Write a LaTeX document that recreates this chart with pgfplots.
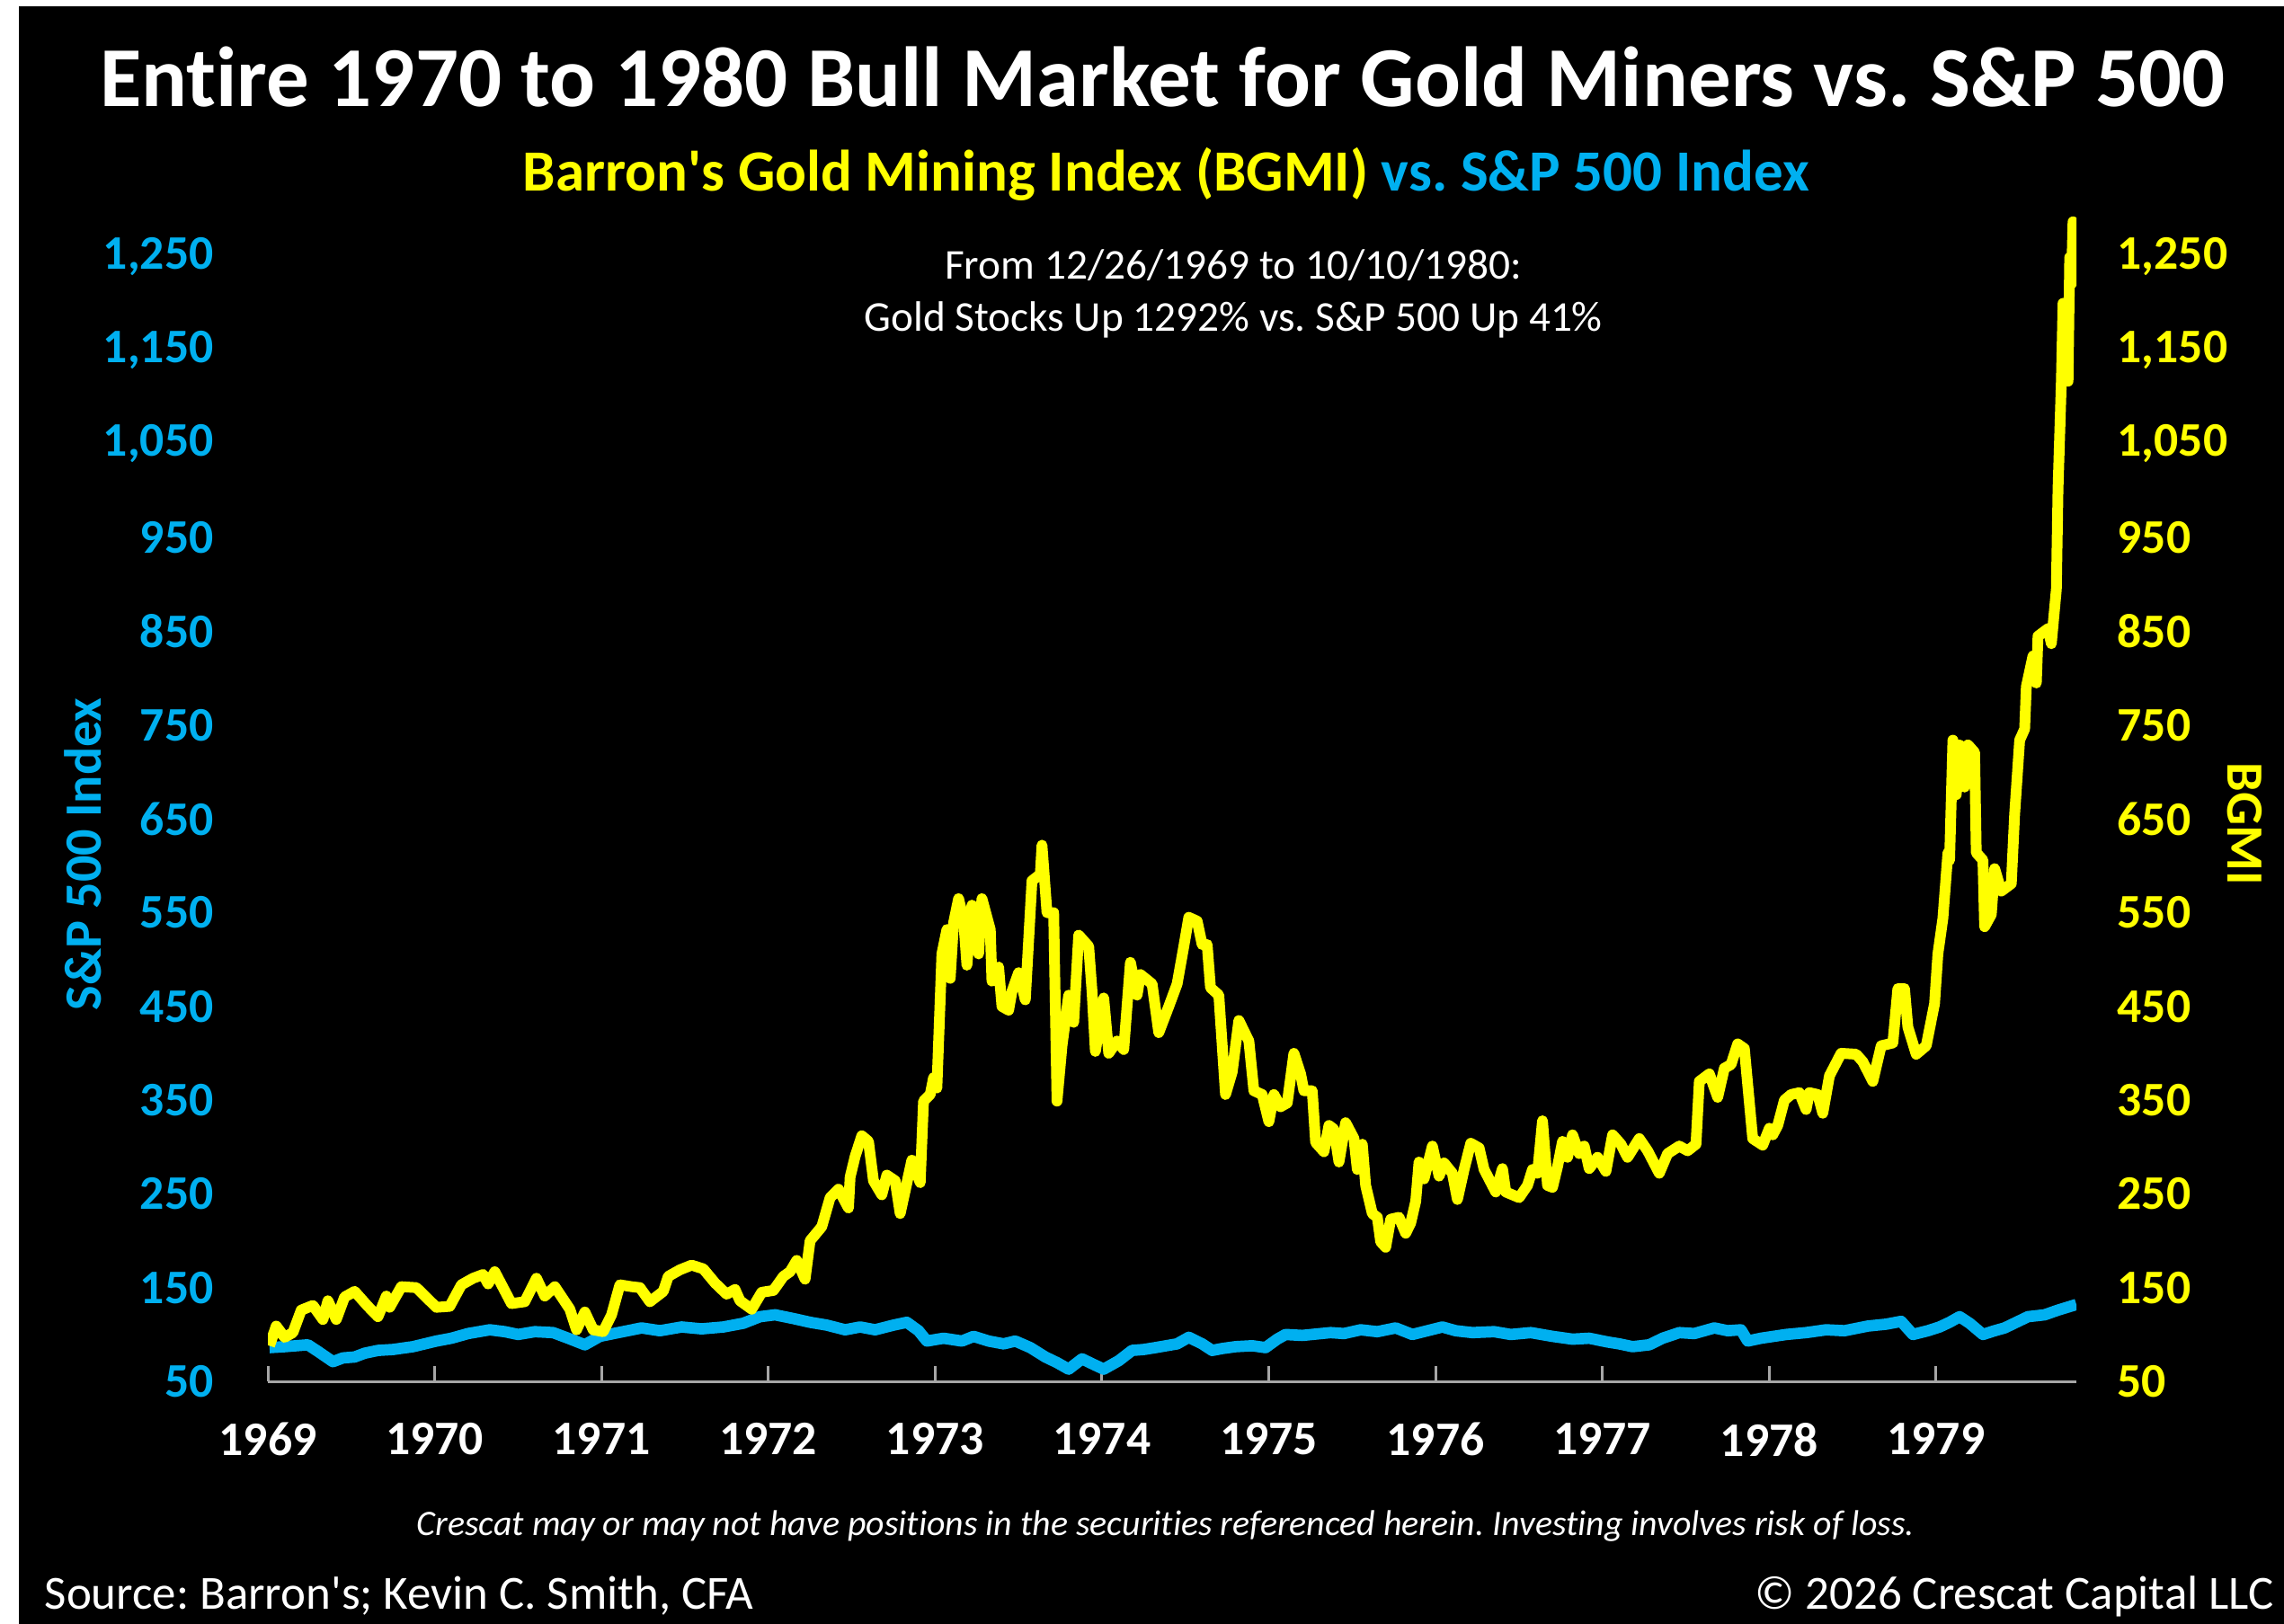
\documentclass[border=0pt]{standalone}
\usepackage{fontspec}
\setmainfont{Carlito}[Ligatures={TeX,NoCommon}]
\usepackage{pgfplots}
\usepackage{pgfplotstable}
\pgfplotsset{compat=1.18}
\frenchspacing

\definecolor{spblue}{HTML}{00B0F0}
\definecolor{gold}{HTML}{FFFF00}
\definecolor{axgray}{HTML}{A6A6A6}

% Barron's Gold Mining Index
\pgfplotstableread{
t v
1969.01 88
1969.05 109
1969.10 97
1969.15 102
1969.20 126
1969.27 131
1969.33 116
1969.36 136
1969.41 116
1969.46 140
1969.52 146
1969.60 130
1969.66 119
1969.71 141
1969.73 129
1969.80 151
1969.89 150
1970.01 129
1970.09 130
1970.16 153
1970.23 160
1970.29 164
1970.32 154
1970.36 167
1970.46 133
1970.54 135
1970.61 160
1970.66 141
1970.72 151
1970.81 127
1970.85 105
1970.90 124
1970.95 105
1971.01 103
1971.06 121
1971.11 153
1971.18 151
1971.23 150
1971.29 135
1971.37 146
1971.40 162
1971.47 169
1971.54 174
1971.61 170
1971.68 155
1971.75 143
1971.80 148
1971.83 136
1971.90 127
1971.96 145
1972.03 147
1972.09 162
1972.13 167
1972.17 179
1972.22 159
1972.25 200
1972.32 215
1972.37 246
1972.42 255
1972.48 235
1972.49 268
1972.52 290
1972.56 312
1972.60 306
1972.63 264
1972.68 249
1972.71 270
1972.76 264
1972.79 229
1972.86 286
1972.91 262
1972.93 349
1972.97 356
1972.99 374
1973.01 363
1973.04 506
1973.07 532
1973.09 480
1973.11 539
1973.14 565
1973.17 543
1973.19 494
1973.22 558
1973.26 506
1973.28 565
1973.33 532
1973.34 477
1973.38 492
1973.40 450
1973.44 446
1973.46 466
1973.50 486
1973.54 457
1973.58 584
1973.63 591
1973.64 622
1973.67 550
1973.71 550
1973.73 349
1973.76 408
1973.80 462
1973.83 433
1973.86 526
1973.92 514
1973.94 466
1973.96 402
1974.01 459
1974.04 400
1974.09 413
1974.13 404
1974.17 497
1974.21 462
1974.23 484
1974.30 474
1974.34 422
1974.40 450
1974.45 474
1974.49 514
1974.52 545
1974.57 541
1974.60 516
1974.63 516
1974.65 470
1974.70 462
1974.74 356
1974.78 380
1974.82 435
1974.88 413
1974.91 360
1974.96 356
1975.00 327
1975.03 356
1975.07 343
1975.11 347
1975.15 400
1975.19 378
1975.21 360
1975.26 360
1975.28 305
1975.33 295
1975.36 323
1975.39 319
1975.42 284
1975.46 326
1975.51 309
1975.53 276
1975.56 303
1975.58 259
1975.62 229
1975.65 225
1975.67 199
1975.70 193
1975.73 223
1975.78 225
1975.82 208
1975.85 219
1975.88 242
1975.90 284
1975.93 266
1975.98 301
1976.02 269
1976.05 283
1976.10 272
1976.13 244
1976.17 276
1976.21 304
1976.26 299
1976.29 276
1976.36 252
1976.40 277
1976.42 252
1976.50 246
1976.55 259
1976.58 276
1976.61 272
1976.64 328
1976.67 259
1976.70 257
1976.73 279
1976.76 306
1976.79 289
1976.82 313
1976.86 293
1976.89 301
1976.92 277
1976.97 289
1977.02 274
1977.06 313
1977.11 303
1977.15 289
1977.22 309
1977.27 296
1977.34 272
1977.39 293
1977.46 301
1977.51 296
1977.56 303
1977.58 370
1977.64 378
1977.69 353
1977.73 384
1977.77 388
1977.81 410
1977.85 405
1977.90 309
1977.96 302
1978.00 320
1978.02 313
1978.05 323
1978.09 350
1978.13 356
1978.18 358
1978.22 340
1978.24 358
1978.29 356
1978.32 336
1978.36 376
1978.43 400
1978.52 399
1978.56 391
1978.62 370
1978.67 408
1978.74 411
1978.77 469
1978.81 469
1978.83 428
1978.88 399
1978.94 408
1978.99 453
1979.01 506
1979.04 544
1979.07 614
1979.08 606
1979.10 734
1979.12 676
1979.14 729
1979.17 684
1979.19 729
1979.23 721
1979.24 614
1979.28 606
1979.29 535
1979.33 548
1979.35 597
1979.39 573
1979.45 581
1979.47 655
1979.50 734
1979.53 746
1979.54 791
1979.58 824
1979.60 795
1979.61 845
1979.67 853
1979.69 837
1979.72 895
1979.73 1002
1979.75 1117
1979.76 1200
1979.78 1200
1979.79 1117
1979.80 1249
1979.81 1221
1979.82 1287
1979.84 1249
}\bgmi

% S&P 500
\pgfplotstableread{
t v
1969.01 86
1969.10 87
1969.24 89
1969.30 82
1969.39 71
1969.45 75
1969.52 76
1969.58 80
1969.66 83
1969.75 84
1969.87 87
1970.01 93
1970.10 96
1970.20 101
1970.33 105
1970.42 103
1970.50 100
1970.60 103
1970.71 102
1970.80 96
1970.90 89
1970.99 98
1971.10 102
1971.24 107
1971.35 104
1971.48 108
1971.60 106
1971.73 108
1971.85 112
1971.95 119
1972.04 121
1972.15 117
1972.25 113
1972.35 110
1972.46 105
1972.55 108
1972.64 105
1972.75 110
1972.83 113
1972.90 104
1972.95 93
1973.05 96
1973.16 93
1973.23 98
1973.32 93
1973.41 90
1973.48 93
1973.57 86
1973.66 76
1973.73 70
1973.80 63
1973.88 74
1973.95 68
1974.01 63
1974.10 72
1974.18 83
1974.25 84
1974.32 86
1974.45 90
1974.52 97
1974.60 90
1974.66 83
1974.72 85
1974.80 87
1974.90 88
1974.98 86
1975.05 95
1975.10 100
1975.20 99
1975.37 102
1975.45 101
1975.55 105
1975.65 103
1975.76 107
1975.86 100
1975.95 104
1976.04 108
1976.12 104
1976.22 102
1976.35 103
1976.45 100
1976.57 102
1976.70 98
1976.82 95
1976.92 96
1977.03 92
1977.10 90
1977.18 87
1977.28 89
1977.36 96
1977.46 102
1977.55 101
1977.67 107
1977.75 104
1977.83 105
1977.87 93
1977.95 96
1978.10 100
1978.22 102
1978.34 105
1978.45 104
1978.59 109
1978.70 111
1978.79 114
1978.86 100
1978.95 104
1979.02 108
1979.08 113
1979.14 119
1979.20 112
1979.28 100
1979.35 104
1979.41 107
1979.48 113
1979.55 119
1979.65 121
1979.73 126
1979.84 132
}\spx

\pgfplotsset{
  chartbox/.style={
    at={(84.44pt,-435.51pt)}, anchor=south west,
    scale only axis, width=570.1pt, height=369.42pt,
    xmin=1969, xmax=1979.84, ymin=50, ymax=1300,
    ytick={50,150,...,1250},
    scaled ticks=false,
    /pgf/number format/assume math mode=true,
    tick label style={font=\fontsize{15.2}{18}\selectfont\bfseries},
    ylabel style={font=\fontsize{16.5}{19}\selectfont\bfseries, anchor=center},
  },
}

\begin{document}
\begin{tikzpicture}
\useasboundingbox (0,0) rectangle (720pt,-512pt);
\fill[white] (0,0) rectangle (720pt,-512pt);
\fill[black] (6pt,-2pt) rectangle (720pt,-512pt);

% S&P 500 on the left axis
\begin{axis}[chartbox,
  axis x line*=bottom, axis y line*=left,
  x axis line style={axgray, line width=0.85pt},
  y axis line style={draw=none},
  xtick={1969,...,1979},
  xtick style={axgray, line width=0.85pt}, major tick length=4.8pt,
  tick align=inside,
  ytick style={draw=none},
  xticklabel style={white, /pgf/number format/1000 sep={}, yshift=-9.5pt},
  yticklabel style={spblue, /pgf/number format/1000 sep={,}, xshift=-13.6pt},
  ylabel={S\&P 500 Index},
  ylabel style={spblue, at={(axis description cs:-0.1024,0.450)}},
]
\addplot[spblue, line width=3.6pt, line join=round] table[x=t, y=v] {\spx};
\end{axis}

% BGMI on the right axis
\begin{axis}[chartbox,
  hide x axis,
  axis y line*=right,
  y axis line style={draw=none},
  ytick style={draw=none},
  yticklabel style={gold, /pgf/number format/1000 sep={,}, xshift=9.4pt},
  ylabel={BGMI},
  ylabel style={gold, rotate=180, at={(axis description cs:1.0929,0.4756)}},
]
\addplot[gold, line width=3.4pt, line join=round] table[x=t, y=v] {\bgmi};
\end{axis}

% titles and notes
\node[white, anchor=base, font=\fontsize{26.9}{30}\selectfont\bfseries]
  at (366.4pt,-33.44pt) {Entire 1970 to 1980 Bull Market for Gold Miners vs. S\&P 500};
\node[anchor=base, font=\fontsize{18.4}{21}\selectfont\bfseries]
  at (367.6pt,-60.35pt) {\textcolor{gold}{Barron\textquotesingle s Gold Mining Index (BGMI)} \textcolor{spblue}{vs. S\&P 500 Index}};
\node[white, anchor=base, font=\fontsize{13.4}{16}\selectfont]
  at (388.8pt,-88.1pt) {From 12/26/1969 to 10/10/1980:};
\node[white, anchor=base, font=\fontsize{13.4}{16}\selectfont]
  at (388.8pt,-104.3pt) {Gold Stocks Up 1292\% vs. S\&P 500 Up 41\%};
\node[white, anchor=base, font=\fontsize{11.3}{13}\selectfont\itshape]
  at (367.5pt,-484.0pt) {Crescat may or may not have positions in the securities referenced herein. Investing involves risk of loss.};
\node[white, anchor=base west, inner sep=0pt, font=\fontsize{15}{18}\selectfont]
  at (13.9pt,-507.2pt) {Source: Barron\textquotesingle s; Kevin C. Smith, CFA};
\node[white, anchor=base east, inner sep=0pt, font=\fontsize{15}{18}\selectfont]
  at (717pt,-507.2pt) {© 2026 Crescat Capital LLC};
\end{tikzpicture}
\end{document}
